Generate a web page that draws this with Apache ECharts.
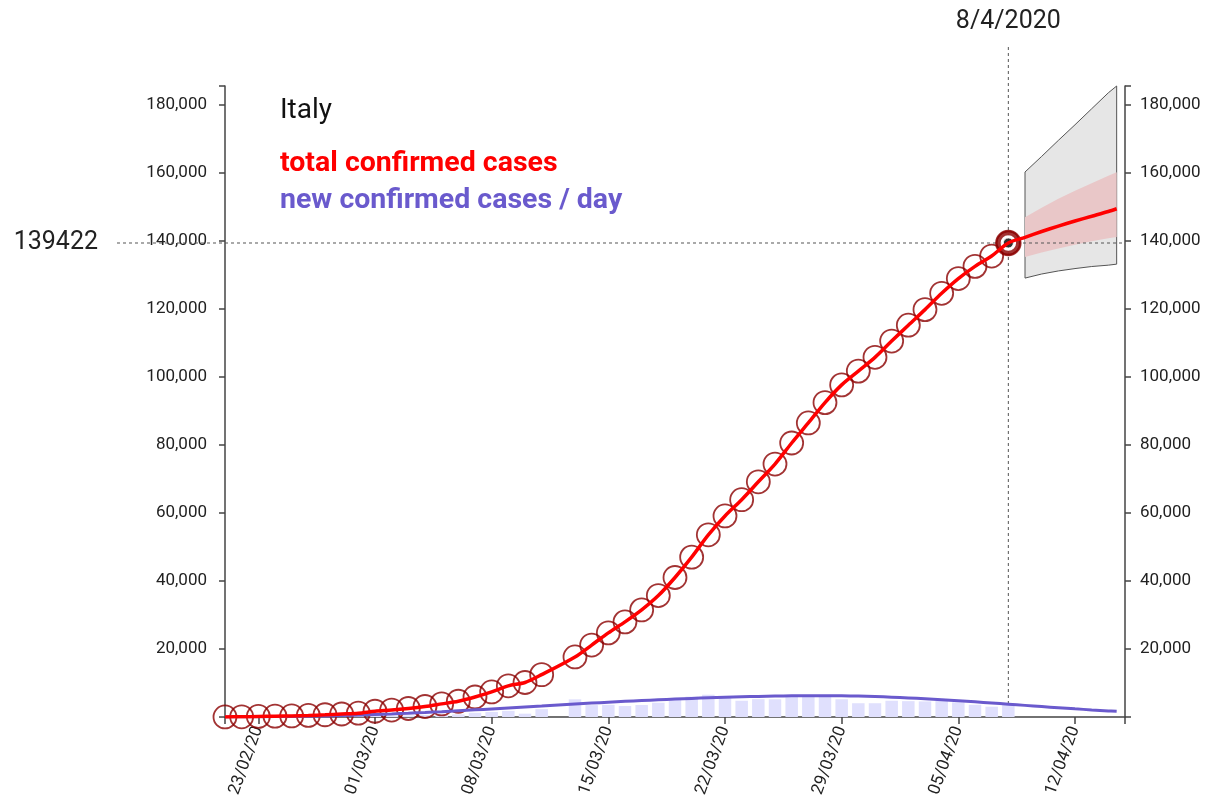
<!DOCTYPE html>
<html>
<head>
<meta charset="utf-8">
<script src="https://cdn.jsdelivr.net/npm/echarts@6/dist/echarts.min.js"></script>
<style>
  html, body { margin: 0; padding: 0; background: #fff; }
  #chart { width: 1207px; height: 801px; }
</style>
</head>
<body>
<div id="chart"></div>
<script>
// ---------- DATA ----------
const countryName = 'Italy';
const seriesNames = ['total confirmed cases', 'new confirmed cases / day'];

// observed days (12/03 has no record)
const obsDates = [
  '21/02','22/02','23/02','24/02','25/02','26/02','27/02','28/02','29/02',
  '01/03','02/03','03/03','04/03','05/03','06/03','07/03','08/03','09/03','10/03','11/03',
  '13/03','14/03','15/03','16/03','17/03','18/03','19/03','20/03','21/03','22/03','23/03',
  '24/03','25/03','26/03','27/03','28/03','29/03','30/03','31/03',
  '01/04','02/04','03/04','04/04','05/04','06/04','07/04','08/04'
];
const totalCases = [
  20,62,155,229,322,453,655,888,1128,
  1694,2036,2502,3089,3858,4636,5883,7375,9172,10149,12462,
  17660,21157,24747,27980,31506,35713,41035,47021,53578,59138,63927,
  69176,74386,80589,86498,92472,97689,101739,105792,
  110574,115242,119827,124632,128948,132547,135586,139422
];
const newCases = [
  20,42,93,74,93,131,202,233,240,
  566,342,466,587,769,778,1247,1492,1797,977,2313,
  5198,3497,3590,3233,3526,4207,5322,5986,6557,5560,4789,
  5249,5210,6203,5909,5974,5217,4050,4053,
  4782,4668,4585,4805,4316,3599,3039,3836
];

// smoothed new-cases curve (daily)
const fitDates = [
  '21/02','22/02','23/02','24/02','25/02','26/02','27/02','28/02','29/02',
  '01/03','02/03','03/03','04/03','05/03','06/03','07/03','08/03','09/03','10/03',
  '11/03','12/03','13/03','14/03','15/03','16/03','17/03','18/03','19/03','20/03',
  '21/03','22/03','23/03','24/03','25/03','26/03','27/03','28/03','29/03','30/03','31/03',
  '01/04','02/04','03/04','04/04','05/04','06/04','07/04','08/04','09/04','10/04',
  '11/04','12/04','13/04','14/04','14/04 12'
];
const newCasesFit = [
  30,50,80,120,170,240,330,440,570,
  730,910,1110,1330,1570,1830,2100,2380,2670,2960,
  3250,3540,3820,4090,4350,4600,4840,5060,5270,5460,
  5640,5800,5940,6060,6160,6230,6270,6280,6250,6150,6010,
  5830,5610,5360,5080,4780,4460,4120,3770,3420,3070,
  2730,2400,2090,1800,1660
];

// forecast after the last observation
const predDates  = ['09/04','10/04','11/04','12/04','13/04','14/04','14/04 12'];
const predTotal  = [141100,142800,144400,145900,147300,148700,149500];
const outerUpper = [160300,164900,169600,174200,178900,183600,185600];
const outerLower = [129100,130300,131200,131900,132500,132900,133200];
const innerUpper = [147000,149800,152400,154800,157000,159200,160200];
const innerLower = [135300,136600,137800,138900,139900,140800,141200];

const lastDate = '08/04';
const lastValue = 139422;

const xMinDate = '21/02';
const xMaxDate = '15/04';
const xTickDates = ['23/02','01/03','08/03','15/03','22/03','29/03','05/04','12/04'];
const yMax = 185600;
const yTicks = [20000,40000,60000,80000,100000,120000,140000,160000,180000];

// ---------- HELPERS ----------
function toTime(s) {
  const parts = s.split(' ');
  const [dd, mm] = parts[0].split('/').map(Number);
  const hh = parts[1] ? Number(parts[1]) : 0;
  return new Date(2020, mm - 1, dd, hh).getTime();
}
const pad = n => (n < 10 ? '0' : '') + n;
const fmtNum = v => String(v).replace(/\B(?=(\d{3})+(?!\d))/g, ',');

const obsT = obsDates.map(toTime);
const predT = predDates.map(toTime);
const fitT = fitDates.map(toTime);

const redLine = obsT.map((t, i) => [t, totalCases[i]]).concat(predT.map((t, i) => [t, predTotal[i]]));
const markers = obsT.map((t, i) => [t, totalCases[i]]);
const bars = obsT.map((t, i) => [t, newCases[i]]);
const blueLine = fitT.map((t, i) => [t, newCasesFit[i]]);

const xTicks = xTickDates.map(toTime);
const xMin = toTime(xMinDate), xMax = toTime(xMaxDate);

function bandSeries(upper, lower, fill, stroke, name) {
  return {
    type: 'custom', name: name, clip: false, silent: true,
    data: predT.map((t, i) => [t, upper[i], lower[i]]),
    renderItem: function (params, api) {
      if (params.dataIndex !== 0) return null;
      const pts = [];
      for (let i = 0; i < predT.length; i++) pts.push(api.coord([predT[i], upper[i]]));
      for (let i = predT.length - 1; i >= 0; i--) pts.push(api.coord([predT[i], lower[i]]));
      return {
        type: 'polygon', shape: { points: pts, smooth: 0 },
        style: { fill: fill, stroke: stroke || 'none', lineWidth: stroke ? 1 : 0 }
      };
    }
  };
}

const axisColor = '#444';
const tickFont = { fontFamily: 'Roboto', fontSize: 17, color: '#222' };

function yAxis(pos, margin) {
  return {
    type: 'value', position: pos, min: 0, max: yMax,
    axisLine: { show: true, lineStyle: { color: axisColor, width: 1.5 } },
    axisTick: { show: true, length: 6, lineStyle: { color: axisColor, width: 1.5 },
                customValues: [0].concat(yTicks, [yMax]) },
    axisLabel: Object.assign({ margin: margin, customValues: yTicks, formatter: v => fmtNum(v) }, tickFont),
    splitLine: { show: false }
  };
}

const chart = echarts.init(document.getElementById('chart'), null, { renderer: 'canvas' });
chart.setOption({
  animation: false,
  backgroundColor: '#fff',
  grid: { left: 225, right: 82, top: 86, bottom: 84, containLabel: false },
  xAxis: {
    type: 'value', min: xMin, max: xMax, scale: true,
    axisLine: { show: true, onZero: false, lineStyle: { color: axisColor, width: 1.5 } },
    axisTick: { show: true, length: 7, lineStyle: { color: axisColor, width: 1.5 },
                customValues: [xMin].concat(xTicks, [xMax]) },
    axisLabel: Object.assign({
      rotate: 70, margin: 10, customValues: xTicks, hideOverlap: false,
      formatter: function (v) { const d = new Date(v); return pad(d.getDate()) + '/' + pad(d.getMonth() + 1) + '/20'; }
    }, tickFont),
    splitLine: { show: false }
  },
  yAxis: [yAxis('left', 18), yAxis('right', 15)],
  graphic: [
    { type: 'text', x: 280, y: 111, style: { text: countryName, font: '28px Roboto', fill: '#111', verticalAlign: 'middle' } },
    { type: 'text', x: 280, y: 164, style: { text: seriesNames[0], font: 'bold 28.5px Roboto', fill: '#ff0000', verticalAlign: 'middle' } },
    { type: 'text', x: 280, y: 201, style: { text: seriesNames[1], font: 'bold 28.5px Roboto', fill: '#6a5acd', verticalAlign: 'middle' } }
  ],
  series: [
    {
      type: 'bar', name: 'new bars', data: bars, barWidth: 12.5,
      itemStyle: { color: '#e0e0fd' }, silent: true
    },
    bandSeries(outerUpper, outerLower, '#e6e6e6', '#555', 'outer band'),
    bandSeries(innerUpper, innerLower, '#e9c7c8', null, 'inner band'),
    {
      type: 'line', name: seriesNames[1], data: blueLine, smooth: 0.4, showSymbol: false,
      lineStyle: { color: '#6a5acd', width: 3 }, silent: true
    },
    {
      type: 'custom', name: 'guides', clip: false, silent: true,
      data: [[toTime(lastDate), lastValue]],
      renderItem: function (params, api) {
        const p = api.coord([api.value(0), api.value(1)]);
        const cs = params.coordSys;
        const d = new Date(api.value(0));
        const dateLabel = d.getDate() + '/' + (d.getMonth() + 1) + '/' + d.getFullYear();
        const dash = { stroke: '#555', lineWidth: 1, lineDash: [3, 3] };
        return {
          type: 'group', children: [
            { type: 'line', shape: { x1: cs.x - 108, y1: p[1], x2: cs.x + cs.width, y2: p[1] }, style: dash },
            { type: 'line', shape: { x1: p[0], y1: cs.y - 39, x2: p[0], y2: cs.y + cs.height }, style: dash },
            { type: 'text', style: { text: String(api.value(1)), x: cs.x - 127, y: p[1], align: 'right', verticalAlign: 'middle', font: '25px Roboto', fill: '#222' } },
            { type: 'text', style: { text: dateLabel, x: p[0], y: cs.y - 64, align: 'center', verticalAlign: 'middle', font: '25px Roboto', fill: '#222' } }
          ]
        };
      }
    },
    {
      type: 'line', name: seriesNames[0], data: redLine, smooth: 0.3, showSymbol: false,
      lineStyle: { color: '#ff0000', width: 3.5 }, silent: true
    },
    {
      type: 'scatter', name: 'markers', data: markers, symbol: 'circle', symbolSize: 23,
      itemStyle: { color: 'rgba(0,0,0,0)', borderColor: '#8b0000', borderWidth: 1.8 }, silent: true
    },
    {
      type: 'scatter', name: 'last ring', data: [[toTime(lastDate), lastValue]], symbolSize: 21,
      itemStyle: { color: '#fff', borderColor: '#8b0000', borderWidth: 5.5 }, silent: true
    },
    {
      type: 'scatter', name: 'last dot', data: [[toTime(lastDate), lastValue]], symbolSize: 10,
      itemStyle: { color: '#000', borderColor: '#fff', borderWidth: 1 }, silent: true
    }
  ]
});
</script>
</body>
</html>
